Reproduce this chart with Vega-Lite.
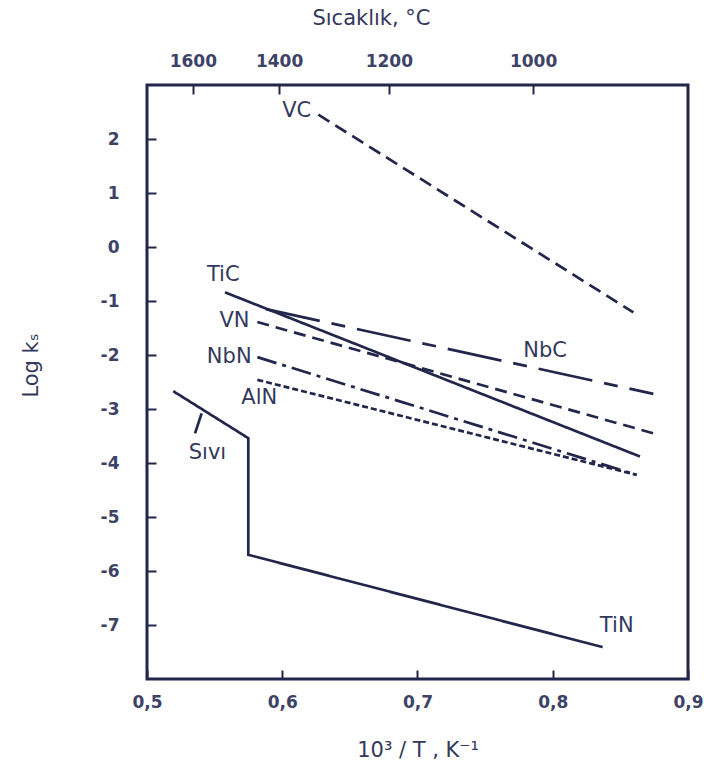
{
  "$schema": "https://vega.github.io/schema/vega-lite/v6.json",
  "width": 541,
  "height": 594,
  "autosize": {"type": "none"},
  "padding": {"left": 147, "top": 85, "right": 16, "bottom": 86},
  "background": "white",
  "config": {
    "view": {"stroke": "#22264a", "strokeWidth": 3},
    "font": "DejaVu Sans",
    "axis": {
      "domain": false,
      "grid": false,
      "labelFont": "DejaVu Sans",
      "titleFont": "DejaVu Sans",
      "labelColor": "#3d4266",
      "titleColor": "#33385c",
      "tickColor": "#22264a",
      "tickWidth": 2,
      "tickSize": -9,
      "labelFontSize": 17,
      "labelFontWeight": "bold",
      "titleFontSize": 21,
      "titleFontWeight": "normal"
    }
  },
  "datasets": {
    "lines": [
      {"series": "VC", "order": 1, "x": 0.6267, "y": 2.45},
      {"series": "VC", "order": 2, "x": 0.8596, "y": -1.21},
      {"series": "TiC", "order": 1, "x": 0.5577, "y": -0.84},
      {"series": "TiC", "order": 2, "x": 0.8645, "y": -3.88},
      {"series": "NbC", "order": 1, "x": 0.588, "y": -1.15},
      {"series": "NbC", "order": 2, "x": 0.8744, "y": -2.72},
      {"series": "VN", "order": 1, "x": 0.5816, "y": -1.39},
      {"series": "VN", "order": 2, "x": 0.8744, "y": -3.45},
      {"series": "NbN", "order": 1, "x": 0.5816, "y": -2.04},
      {"series": "NbN", "order": 2, "x": 0.862, "y": -4.22},
      {"series": "AlN", "order": 1, "x": 0.5816, "y": -2.46},
      {"series": "AlN", "order": 2, "x": 0.862, "y": -4.22},
      {"series": "TiN", "order": 1, "x": 0.5194, "y": -2.67},
      {"series": "TiN", "order": 2, "x": 0.5749, "y": -3.54},
      {"series": "TiN", "order": 3, "x": 0.5749, "y": -5.7},
      {"series": "TiN", "order": 4, "x": 0.8369, "y": -7.41},
      {"series": "leader", "order": 1, "x": 0.5404, "y": -3.08},
      {"series": "leader", "order": 2, "x": 0.5355, "y": -3.45}
    ],
    "labels": [
      {"label": "VC", "x": 0.6107, "y": 2.51},
      {"label": "TiC", "x": 0.5564, "y": -0.51},
      {"label": "VN", "x": 0.5647, "y": -1.37},
      {"label": "NbN", "x": 0.5608, "y": -2.04},
      {"label": "AlN", "x": 0.583, "y": -2.8},
      {"label": "Sıvı", "x": 0.5447, "y": -3.82},
      {"label": "NbC", "x": 0.7943, "y": -1.92},
      {"label": "TiN", "x": 0.8473, "y": -7.01}
    ],
    "temps": [
      {"T": 1600, "inv": 0.53387},
      {"T": 1400, "inv": 0.59767},
      {"T": 1200, "inv": 0.67882},
      {"T": 1000, "inv": 0.78545}
    ]
  },
  "layer": [
    {
      "layer": [
        {
          "data": {"name": "lines"},
          "mark": {"type": "line", "strokeWidth": 2.7, "color": "#22264a"},
          "encoding": {
            "x": {
              "field": "x", "type": "quantitative",
              "scale": {"domain": [0.5, 0.9], "nice": false, "zero": false},
              "axis": {
                "orient": "bottom",
                "values": [0.5, 0.6, 0.7, 0.8, 0.9],
                "labelExpr": "replace(format(datum.value, '.1f'), '.', ',')",
                "labelPadding": 24,
                "labelFlush": false,
                "labelOverlap": false,
                "labelBound": false,
                "title": "10³ / T , K⁻¹",
                "titleX": 270.5,
                "titleY": 77,
                "titleBaseline": "alphabetic"
              }
            },
            "y": {
              "field": "y", "type": "quantitative",
              "scale": {"domain": [-8, 3], "nice": false, "zero": false},
              "axis": {
                "values": [-7, -6, -5, -4, -3, -2, -1, 0, 1, 2],
                "labelExpr": "datum.value + ''",
                "labelPadding": 37,
                "title": "Log kₛ",
                "titleX": -110,
                "titleY": 280,
                "titleBaseline": "alphabetic"
              }
            },
            "order": {"field": "order", "type": "quantitative"},
            "strokeDash": {
              "field": "series", "type": "nominal",
              "scale": {
                "domain": ["VC", "TiC", "NbC", "VN", "NbN", "AlN", "TiN", "leader"],
                "range": [[13, 7], [1, 0], [55, 12, 14, 12], [12, 7], [20, 6, 4, 6], [6, 3], [1, 0], [1, 0]]
              },
              "legend": null
            }
          }
        },
        {
          "data": {"name": "labels"},
          "mark": {"type": "text", "fontSize": 21, "font": "DejaVu Sans", "color": "#33385c", "align": "center", "baseline": "middle"},
          "encoding": {
            "x": {"field": "x", "type": "quantitative", "title": "10³ / T , K⁻¹"},
            "y": {"field": "y", "type": "quantitative", "title": "Log kₛ"},
            "text": {"field": "label"}
          }
        }
      ]
    },
    {
      "data": {"name": "temps"},
      "mark": {"type": "point", "opacity": 0},
      "encoding": {
        "x": {
          "field": "inv", "type": "quantitative",
          "scale": {"domain": [0.5, 0.9], "nice": false, "zero": false},
          "axis": {
            "orient": "top",
            "values": [0.53387, 0.59767, 0.67882, 0.78545],
            "labelExpr": "format(round(1000 / datum.value - 273.15), 'd')",
            "labelPadding": 24,
            "labelFlush": false,
            "labelOverlap": false,
            "title": "Sıcaklık, °C",
            "titleX": 224,
            "titleY": -61,
            "titleBaseline": "alphabetic"
          }
        }
      }
    }
  ],
  "resolve": {"scale": {"x": "independent"}, "axis": {"x": "independent"}}
}
